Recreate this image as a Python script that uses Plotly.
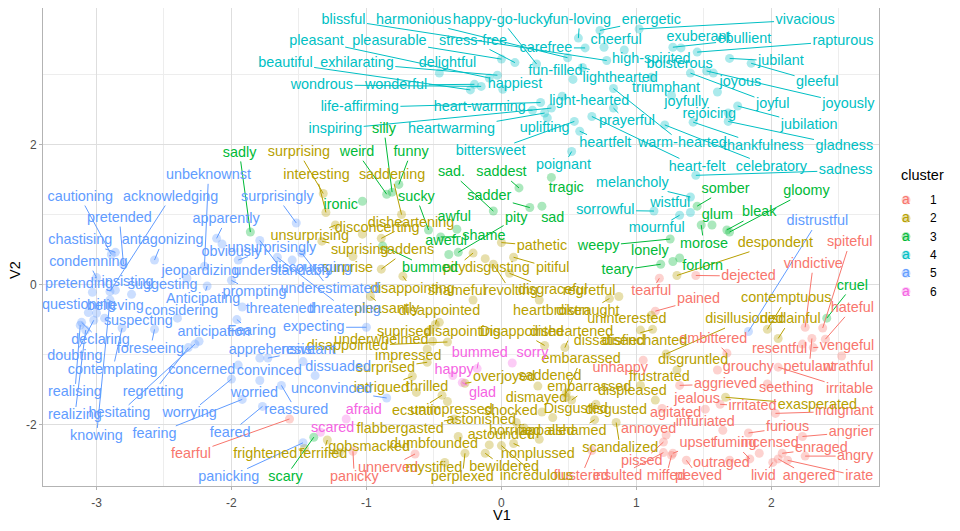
import math
import plotly.graph_objects as go

# ---------------- data (V1, V2 = point; label_V1, label_V2 = repelled label) -------------
words1 = ["fearful","panicky","unnerved","tearful","pained","dejected","spiteful","vindictive","hateful",
          "resentful","vengeful","embittered","grouchy","petulant","wrathful","aggrieved","seething","irritable",
          "jealous","irritated","indignant","agitated","infuriated","furious","upset","fuming","incensed","enraged",
          "angrier","angry","outraged","peeved","livid","angered","irate","miffed","insulted","flustered","pissed",
          "annoyed","unhappy"]
V1_1 = [-1.57,-1.10,-0.64,1.17,1.14,1.44,2.38,2.25,2.40,2.23,2.31,1.67,1.60,2.30,2.52,1.32,1.97,2.05,1.51,1.62,
        2.03,1.19,1.64,1.83,1.27,1.84,1.91,2.08,2.23,2.25,1.69,1.37,2.01,2.05,2.12,1.26,1.20,0.67,1.20,1.22,1.05]
V2_1 = [-1.92,-2.38,-2.42,0.09,-0.38,0.13,-0.62,-0.61,-0.78,-0.85,-0.90,-0.98,-1.22,-0.77,-1.02,-1.44,-1.42,-1.18,
        -1.78,-1.71,-1.84,-1.77,-2.08,-2.12,-2.41,-2.49,-2.41,-2.41,-2.17,-2.45,-2.51,-2.51,-2.54,-2.49,-2.51,-2.44,
        -2.40,-2.37,-2.25,-2.15,-1.08]
label_V1_1 = [-2.30,-1.09,-0.84,1.11,1.46,1.83,2.58,2.31,2.60,2.06,2.56,1.57,1.83,2.28,2.57,1.66,2.11,2.58,1.45,1.86,
              2.54,1.29,1.51,2.12,1.45,1.73,1.99,2.37,2.59,2.62,1.63,1.46,1.94,2.28,2.65,1.22,0.86,0.59,1.04,1.09,0.88]
label_V2_1 = [-2.42,-2.75,-2.62,-0.10,-0.21,0.12,0.60,0.29,-0.34,-0.92,-0.88,-0.78,-1.18,-1.18,-1.18,-1.42,-1.48,-1.50,
              -1.64,-1.74,-1.81,-1.84,-1.97,-2.04,-2.27,-2.27,-2.27,-2.34,-2.11,-2.45,-2.55,-2.74,-2.74,-2.74,-2.74,-2.74,
              -2.74,-2.74,-2.53,-2.07,-1.20]

words2 = ["surprising","interesting","saddening","disheartening","disconcerting","unsurprising","suprising","saddens",
          "surprise","pathetic","pitiful","disgusting","pity","revolting","disgraceful","regretful","shameful",
          "distraught","heartbroken","uninterested","despondent","contemptuous","disillusioned","disdainful",
          "disgruntled","exasperated","frustrated","displeased","dissatisfied","disenchanted","embarrassed",
          "embarassed","Disgusted","disgusted","dismayed","saddened","overjoyed","shocked","astonished","astounded",
          "horrified","appalled","ashamed","scandalized","nonplussed","incredulous","bewildered","perplexed",
          "mystified","dumbfounded","gobsmacked","flabbergasted","terrified","frightened","ecstatic","unimpressed",
          "thrilled","intrigued","surprised","impressed","underwhelmed","disappointed","suprised","pleasantly",
          "disappointing","Disappointed","disheartened","disappointed","disapointing"]
V1_2 = [-1.32,-1.30,-0.74,-0.89,-1.03,-1.23,-1.33,-0.89,-1.10,0.00,0.09,-0.12,-0.21,-0.06,0.06,0.87,-0.21,0.80,0.28,
        1.11,1.30,1.97,1.22,2.05,1.30,1.66,1.03,1.14,1.12,1.03,0.52,0.48,0.38,0.70,0.48,0.27,-0.27,0.30,0.11,-0.09,
        0.17,0.28,0.69,0.85,0.09,0.00,-0.12,-0.27,-0.42,-0.32,-1.20,-0.35,-1.29,-1.46,-0.44,-0.40,-0.63,-0.66,-0.55,
        -0.55,-0.51,-0.40,-0.53,-0.97,-0.73,0.32,0.47,-0.49,-0.46]
V2_2 = [1.30,1.03,1.00,0.66,0.72,0.85,0.62,0.22,0.40,0.60,0.39,0.37,0.45,0.29,0.16,-0.17,-0.22,-0.20,-0.22,-0.44,0.13,
        -0.64,-0.99,-0.77,-1.22,-1.61,-1.44,-1.65,-0.64,-0.65,-1.65,-1.55,-1.90,-1.71,-1.61,-1.45,-1.41,-1.82,-1.97,
        -2.29,-2.05,-2.21,-1.93,-1.97,-2.27,-2.30,-2.41,-2.41,-2.54,-2.17,-2.40,-1.92,-2.22,-2.34,-1.58,-1.67,-1.54,
        -1.31,-1.11,-0.92,-0.81,-0.82,-0.65,-0.17,0.12,-0.87,-0.90,-0.57,-0.54]
label_V1_2 = [-1.50,-1.37,-0.81,-0.67,-0.92,-1.42,-1.05,-0.70,-1.14,0.30,0.38,-0.03,-0.35,0.07,0.38,0.65,-0.33,0.64,
              0.37,0.93,2.03,2.11,1.80,2.14,1.42,2.34,1.17,0.97,0.80,1.06,0.65,0.59,0.55,0.85,0.26,0.36,0.02,0.07,
              -0.15,0.00,0.10,0.34,0.56,0.88,0.27,0.26,0.02,-0.29,-0.50,-0.50,-0.98,-0.75,-1.32,-1.75,-0.63,-0.37,
              -0.55,-0.89,-0.86,-0.69,-0.89,-1.14,-0.72,-0.85,-0.66,0.15,0.52,-0.46,-0.29]
label_V2_2 = [1.89,1.56,1.56,0.88,0.80,0.69,0.49,0.49,0.23,0.55,0.23,0.23,0.23,-0.10,-0.08,-0.10,-0.10,-0.38,-0.38,
              -0.50,0.59,-0.20,-0.50,-0.50,-1.08,-1.72,-1.33,-1.53,-0.81,-0.81,-1.47,-1.07,-1.78,-1.80,-1.62,-1.31,
              -1.32,-1.81,-1.94,-2.15,-2.10,-2.10,-2.10,-2.34,-2.43,-2.74,-2.61,-2.75,-2.62,-2.28,-2.32,-2.07,-2.42,
              -2.42,-1.81,-1.80,-1.47,-1.48,-1.20,-1.02,-0.80,-0.88,-0.68,-0.35,-0.07,-0.68,-0.68,-0.38,-0.68]

words3 = ["somber","gloomy","bleak","glum","morose","weepy","lonely","teary","forlorn","sadly","weird","silly","funny",
          "ironic","sucky","sad.","saddest","sadder","sad","tragic","awful","pity","shame","aweful","bummed","scary",
          "cruel"]
V1_3 = [1.45,1.69,1.67,1.56,1.48,1.25,1.27,1.18,1.32,-1.86,-0.85,-0.81,-0.76,-1.03,-0.54,-0.06,0.13,0.21,0.30,0.37,
        -0.33,-0.32,-0.45,-0.39,-0.88,-1.39,2.41]
V2_3 = [1.12,0.75,0.78,0.85,0.85,0.65,0.33,0.29,0.38,0.75,1.29,1.32,1.43,1.19,0.78,1.05,1.38,1.10,1.12,1.53,0.79,0.46,
        0.68,0.43,0.55,-2.18,-0.48]
label_V1_3 = [1.66,2.26,1.91,1.60,1.50,0.72,1.10,0.86,1.49,-1.94,-1.07,-0.87,-0.67,-1.19,-0.63,-0.37,0.00,-0.09,0.38,
              0.48,-0.35,0.11,-0.13,-0.41,-0.53,-1.60,2.60]
label_V2_3 = [1.36,1.33,1.03,0.99,0.58,0.55,0.48,0.20,0.26,1.88,1.89,2.22,1.89,1.13,1.25,1.60,1.60,1.26,0.95,1.38,0.96,
              0.95,0.69,0.62,0.23,-2.75,-0.02]

words4 = ["blissful","harmonious","happy-go-lucky","fun-loving","energetic","vivacious","pleasant","pleasurable",
          "stress-free","carefree","cheerful","exuberant","ebullient","rapturous","beautiful","exhilarating",
          "delightful","fun-filled","high-spirited","boisterous","jubilant","gleeful","wondrous","wonderful",
          "happiest","lighthearted","triumphant","joyous","life-affirming","heart-warming","light-hearted","joyfully",
          "joyful","joyously","inspiring","heartwarming","uplifting","prayerful","rejoicing","jubilation","gladness",
          "thankfulness","bittersweet","heartfelt","warm-hearted","heart-felt","celebratory","sadness","poignant",
          "melancholy","wistful","sorrowful","mournful"]
V1_4 = [0.78,0.49,0.26,0.57,0.73,1.02,-0.09,0.00,0.10,0.62,0.76,1.33,1.27,1.45,-0.23,-0.03,-0.46,0.53,0.91,1.57,1.69,
        1.85,-0.15,-0.20,0.01,0.60,1.11,1.60,0.29,0.23,0.45,1.26,1.40,1.52,0.37,0.32,0.34,0.83,1.68,1.75,1.68,1.42,
        0.54,0.58,0.83,0.67,1.21,1.44,0.52,1.40,1.40,1.13,1.32]
V2_4 = [3.20,3.24,3.15,3.52,3.63,3.65,2.95,3.22,3.17,3.38,3.39,3.38,3.39,3.32,2.78,2.99,3.02,2.93,3.35,3.02,3.23,3.16,
        2.83,2.86,2.79,3.10,2.96,2.75,2.60,2.49,2.69,2.70,3.02,3.05,2.52,2.45,2.38,2.52,2.45,2.55,2.33,2.32,2.33,2.19,
        2.80,2.40,2.28,1.56,1.90,1.25,1.03,1.05,0.99]
label_V1_4 = [-1.17,-0.65,0.00,0.58,1.11,2.25,-1.37,-0.83,-0.21,0.33,0.85,1.46,1.80,2.53,-1.60,-1.07,-0.40,0.40,1.11,
              1.32,2.07,2.34,-1.33,-0.78,0.10,0.88,1.22,1.77,-1.05,-0.16,0.65,1.37,2.01,2.57,-1.23,-0.37,0.32,0.93,
              1.54,2.28,2.54,1.94,-0.08,0.77,1.34,1.45,2.00,2.55,0.46,0.97,1.25,0.77,1.15]
label_V2_4 = [3.78,3.78,3.78,3.78,3.78,3.78,3.48,3.48,3.48,3.38,3.49,3.53,3.50,3.48,3.16,3.16,3.16,3.05,3.22,3.15,3.19,
              2.89,2.85,2.85,2.86,2.95,2.80,2.89,2.53,2.53,2.62,2.60,2.58,2.58,2.22,2.22,2.23,2.33,2.43,2.28,1.98,1.98,
              1.90,2.02,2.02,1.68,1.68,1.63,1.70,1.45,1.16,1.06,0.80]

words5 = ["unbeknownst","cautioning","acknowledging","pretended","apparently","chastising","antagonizing","obviously",
          "unsurprisingly","surprisingly","condemning","jeopardizing","understandably","discouraging","pretending",
          "insisting","suggesting","prompting","Anticipating","questioning","believing","considering","suspecting",
          "threatened","threatening","underestimated","expecting","declaring","foreseeing","anticipation","Fearing",
          "doubting","contemplating","concerned","regretting","realising","realizing","hesitating","worrying",
          "worried","knowing","fearing","feared","panicking","apprehensive","resistant","convinced","dissuaded",
          "unconvinced","reassured","distrustful"]
V1_5 = [-2.20,-2.89,-2.90,-2.80,-2.11,-2.86,-2.57,-2.07,-1.95,-1.52,-3.00,-2.33,-1.79,-1.55,-3.03,-2.86,-2.74,-2.00,
        -2.18,-3.06,-3.00,-2.40,-2.94,-1.92,-1.66,-1.48,-1.00,-3.11,-2.57,-2.24,-1.96,-3.02,-2.81,-1.95,-2.32,-3.12,
        -3.08,-2.27,-2.00,-1.79,-2.90,-1.92,-1.77,-1.47,-1.79,-1.73,-1.47,-1.38,-0.85,-1.63,1.83]
V2_5 = [0.26,0.43,-0.10,0.29,0.66,0.46,0.35,0.58,0.35,0.88,0.10,0.09,0.63,0.35,-0.11,-0.08,-0.14,0.06,-0.02,-0.40,
        -0.41,-0.48,-0.48,-0.32,0.39,0.45,-0.61,-0.54,-0.64,-0.81,-0.50,-0.51,-0.62,-1.15,-0.90,-0.58,-0.65,-0.85,
        -1.35,-1.37,-0.22,-1.64,-1.74,-2.26,-1.05,-1.05,-1.10,-1.30,-1.62,-1.44,-0.67]
label_V1_5 = [-2.17,-3.12,-2.45,-2.83,-2.04,-3.12,-2.51,-2.00,-1.70,-1.66,-3.06,-2.23,-1.62,-1.41,-3.13,-2.77,-2.51,
              -1.83,-2.21,-3.13,-2.86,-2.37,-2.69,-1.64,-1.16,-1.27,-1.39,-2.97,-2.60,-2.13,-1.85,-3.16,-2.88,-2.22,
              -2.58,-3.16,-3.16,-2.83,-2.31,-1.83,-3.00,-2.57,-2.01,-2.02,-1.70,-1.43,-1.72,-1.21,-1.26,-1.52,2.34]
label_V2_5 = [1.56,1.25,1.25,0.95,0.93,0.63,0.63,0.46,0.52,1.25,0.32,0.19,0.19,0.23,0.00,0.03,-0.01,-0.11,-0.21,-0.30,
              -0.31,-0.38,-0.52,-0.35,-0.35,-0.07,-0.61,-0.80,-0.92,-0.68,-0.67,-1.02,-1.22,-1.22,-1.54,-1.54,-1.87,
              -1.84,-1.84,-1.55,-2.17,-2.14,-2.12,-2.75,-0.94,-0.94,-1.24,-1.18,-1.50,-1.80,0.90]

words6 = ["afraid","scared","happy","glad","bummed","sorry"]
V1_6 = [-1.15,-1.34,-0.36,-0.29,-0.18,0.08]
V2_6 = [-1.92,-2.11,-1.30,-1.40,-1.20,-1.12]
label_V1_6 = [-1.02,-1.25,-0.35,-0.14,-0.16,0.23]
label_V2_6 = [-1.80,-2.05,-1.22,-1.55,-0.99,-0.99]

cluster_names = ["1", "2", "3", "4", "5", "6"]
# ---------------------------------------------------------------------------------------------

clusters = [
    (words1, V1_1, V2_1, label_V1_1, label_V2_1),
    (words2, V1_2, V2_2, label_V1_2, label_V2_2),
    (words3, V1_3, V2_3, label_V1_3, label_V2_3),
    (words4, V1_4, V2_4, label_V1_4, label_V2_4),
    (words5, V1_5, V2_5, label_V1_5, label_V2_5),
    (words6, V1_6, V2_6, label_V1_6, label_V2_6),
]
for c in clusters:
    n = len(c[0])
    assert all(len(a) == n for a in c), (c[0][0], [len(a) for a in c])

COLORS = ["#F8766D", "#B79F00", "#00BA38", "#00BFC4", "#619CFF", "#F564E3"]
FONT = "Liberation Sans, Arial, Helvetica, sans-serif"
FS = 14.4

# the page body has an 8px margin: work in page pixels and shift by OFF
OFF = 8
W, H = 952, 523
ML, MT = 43 - OFF, 0
PW, PH = 836, 478
MR, MB = W - ML - PW, H - MT - PH
XR = [-3.396, 2.797]
YR = [-2.877, 3.95]
SX = PW / (XR[1] - XR[0])
SY = PH / (YR[1] - YR[0])

CW = {"i": .222, "l": .222, "j": .222, "t": .278, "f": .278, "r": .333, "-": .333, ".": .278,
      "s": .5, "c": .5, "k": .5, "v": .5, "y": .5, "z": .5, "x": .5, "m": .833, "w": .722,
      "A": .667, "D": .722, "F": .611}


def text_w(s):
    return sum(CW.get(ch, .556) for ch in s) * FS


fig = go.Figure()

# points
for k, (w, x, y, lx, ly) in enumerate(clusters):
    fig.add_trace(go.Scatter(x=x, y=y, mode="markers", hoverinfo="skip", showlegend=False,
                             marker=dict(size=9, color=COLORS[k], opacity=0.33, line=dict(width=0))))

# segments (point -> edge of the label box)
for k, (w, x, y, lx, ly) in enumerate(clusters):
    sxs, sys_ = [], []
    for word, px, py, cx, cy in zip(w, x, y, lx, ly):
        dx = (cx - px) * SX
        dy = (cy - py) * SY
        hw = text_w(word) / 2 + 1.5
        hh = 8.5
        if abs(dx) <= hw and abs(dy) <= hh:
            continue
        s = min(hw / abs(dx) if dx else 1e9, hh / abs(dy) if dy else 1e9)
        length = (1 - s) * math.hypot(dx, dy)
        if length < 5:
            continue
        ex = cx - s * (cx - px)
        ey = cy - s * (cy - py)
        sxs += [px, ex, None]
        sys_ += [py, ey, None]
    fig.add_trace(go.Scatter(x=sxs, y=sys_, mode="lines", hoverinfo="skip", showlegend=False,
                             line=dict(color=COLORS[k], width=1)))

# labels
for k, (w, x, y, lx, ly) in enumerate(clusters):
    fig.add_trace(go.Scatter(x=lx, y=ly, text=w, mode="text", hoverinfo="skip", showlegend=False,
                             textposition="middle center",
                             textfont=dict(color=COLORS[k], size=FS, family=FONT)))


def paper(xpx, ypx):
    # page pixel -> paper coordinates
    return (xpx - OFF - ML) / PW, 1 - (ypx - OFF - MT) / PH


def note(text, xpx, ypx, size, color="#000000", xanchor="center", angle=0):
    x, y = paper(xpx, ypx)
    return dict(text=text, x=x, y=y, xref="paper", yref="paper", showarrow=False, textangle=angle,
                xanchor=xanchor, yanchor="middle", font=dict(size=size, color=color, family=FONT))


annotations = [note("V1", 502, 515, 14.5), note("V2", 15, 270, 14.5, angle=-90),
               note("cluster", 899, 175, 14.5, xanchor="left")]
shapes = []
for i, name in enumerate(cluster_names):
    ypx = 200 + i * 18.3
    kx, ky = paper(906, ypx)
    shapes.append(dict(type="circle", xref="paper", yref="paper", xsizemode="pixel", ysizemode="pixel",
                       xanchor=kx, yanchor=ky, x0=-4.5, x1=4.5, y0=-4.5, y1=4.5,
                       fillcolor=COLORS[i], opacity=0.33, line=dict(width=0)))
    annotations.append(note("a", 906, ypx - 1, 14, color=COLORS[i]))
    annotations.append(note(name, 928, ypx, 12, xanchor="left"))

axis_common = dict(showline=True, mirror=True, linecolor="#B3B3B3", linewidth=1, zeroline=False,
                   showgrid=True, gridcolor="#DEDEDE", gridwidth=1, ticks="outside", ticklen=3,
                   tickcolor="#B3B3B3", tickfont=dict(size=12, color="#4D4D4D", family=FONT))
fig.update_layout(
    width=W, height=H, margin=dict(l=ML, r=MR, t=MT, b=MB, autoexpand=False),
    paper_bgcolor="white", plot_bgcolor="white", showlegend=False,
    xaxis=dict(range=XR, tickvals=[-3, -2, -1, 0, 1, 2], ticktext=["-3", "-2", "-1", "0", "1", "2"],
               ticklabelstandoff=3,
               minor=dict(tickvals=[-2.5, -1.5, -0.5, 0.5, 1.5, 2.5], showgrid=True, gridcolor="#EDEDED",
                          gridwidth=1, ticklen=0), **axis_common),
    yaxis=dict(range=YR, tickvals=[-2, 0, 2], ticktext=["-2", "0", "2"],
               minor=dict(tickvals=[-1, 1, 3], showgrid=True, gridcolor="#EDEDED", gridwidth=1, ticklen=0),
               **axis_common),
    annotations=annotations, shapes=shapes,
)

fig.write_html("out.html")
